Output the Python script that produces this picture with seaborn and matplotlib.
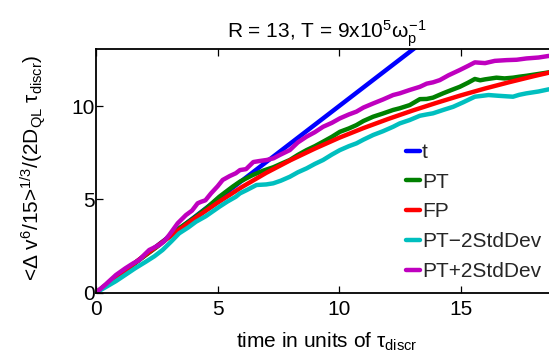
import numpy as np
import pandas as pd
import matplotlib
matplotlib.use("Agg")
import matplotlib.pyplot as plt
import seaborn as sns

# ---- data ----
t_time = [0.0, 20.0]
t_vals = [0.0, 20.0]

fp_time = [0, 1, 2, 3, 4, 5, 6, 7, 8, 9, 10, 11, 12, 13, 14, 15, 16, 17, 18, 19]
fp_vals = [0.0, 1.0, 2.0, 2.97, 3.92, 4.82, 5.66, 6.42, 7.1, 7.72, 8.3, 8.82,
           9.3, 9.75, 10.17, 10.57, 10.94, 11.28, 11.6, 11.9]

pt_time = [0, 0.5, 1.0, 1.5, 2.0, 2.5, 3.0, 3.42, 4.0, 4.52, 5.07, 5.62, 5.92,
           6.44, 6.9, 7.29, 7.6, 7.97, 8.3, 8.66, 9.0, 9.34, 9.7, 10.03, 10.4,
           10.71, 11.0, 11.4, 11.8, 12.22, 12.49, 12.9, 13.32, 13.6, 13.86,
           14.27, 14.6, 14.96, 15.3, 15.58, 15.8, 16.0, 16.47, 16.8, 17.15,
           17.4, 17.7, 18.1, 18.6, 19.0]
pt_vals = [0, 0.5, 0.98, 1.47, 1.97, 2.45, 2.98, 3.45, 3.98, 4.5, 5.14, 5.68,
           5.95, 6.3, 6.55, 6.72, 6.9, 7.11, 7.38, 7.64, 7.85, 8.09, 8.35, 8.62,
           8.8, 8.98, 9.2, 9.43, 9.6, 9.79, 9.88, 10.05, 10.37, 10.38, 10.45,
           10.68, 10.85, 11.03, 11.25, 11.45, 11.38, 11.43, 11.52, 11.48, 11.52,
           11.57, 11.62, 11.7, 11.8, 11.86]

lo_time = [0, 0.4, 0.82, 1.2, 1.6, 2.05, 2.4, 2.74, 3.1, 3.42, 3.8, 4.11, 4.52,
           5.07, 5.4, 5.75, 5.92, 6.2, 6.6, 7.0, 7.29, 7.6, 7.97, 8.3, 8.66,
           9.0, 9.34, 9.7, 10.03, 10.4, 10.71, 11.0, 11.4, 11.8, 12.22, 12.49,
           12.9, 13.32, 13.6, 13.86, 14.3, 14.69, 15.1, 15.58, 15.9, 16.14,
           16.55, 16.9, 17.15, 17.4, 17.7, 18.2, 18.6, 19.0]
lo_vals = [0, 0.3, 0.62, 0.95, 1.3, 1.66, 1.95, 2.29, 2.75, 3.18, 3.5, 3.8,
           4.1, 4.6, 4.88, 5.14, 5.32, 5.5, 5.77, 5.8, 5.86, 6.0, 6.21, 6.45,
           6.66, 6.9, 7.11, 7.4, 7.64, 7.85, 8.0, 8.2, 8.45, 8.65, 8.89, 9.07,
           9.25, 9.48, 9.55, 9.61, 9.8, 9.96, 10.2, 10.5, 10.55, 10.59, 10.55,
           10.52, 10.5, 10.6, 10.68, 10.78, 10.89, 10.95]

hi_time = [0, 0.4, 0.82, 1.2, 1.5, 1.78, 2.0, 2.19, 2.6, 2.8, 3.01, 3.36, 3.7,
           3.95, 4.18, 4.32, 4.5, 4.73, 5.0, 5.21, 5.5, 5.75, 5.92, 6.17, 6.47,
           6.7, 7.02, 7.3, 7.56, 7.97, 8.3, 8.66, 9.0, 9.34, 9.7, 10.03, 10.4,
           10.71, 11.0, 11.4, 11.8, 12.22, 12.49, 12.9, 13.32, 13.6, 13.86,
           14.14, 14.5, 14.96, 15.3, 15.58, 16.0, 16.4, 16.88, 17.3, 17.7,
           18.2, 18.6, 19.0]
hi_vals = [0, 0.45, 0.95, 1.3, 1.55, 1.75, 2.05, 2.29, 2.55, 2.75, 3.09, 3.72,
           4.16, 4.4, 4.79, 4.87, 4.95, 5.32, 5.7, 6.04, 6.25, 6.4, 6.57, 6.62,
           7.0, 7.05, 7.11, 7.2, 7.38, 7.64, 8.05, 8.36, 8.6, 8.89, 9.1, 9.34,
           9.55, 9.7, 9.92, 10.14, 10.35, 10.59, 10.68, 10.86, 11.03, 11.2,
           11.27, 11.39, 11.65, 11.93, 12.15, 12.34, 12.3, 12.42, 12.46, 12.48,
           12.55, 12.6, 12.68, 12.74]

series_names = ["t", "PT", "FP", "PT\u22122StdDev", "PT+2StdDev"]
series_colors = ["#0000FF", "#008000", "#FF0000", "#00BFBF", "#BF00BF"]
x_ticks = [0, 5, 10, 15]
y_ticks = [0, 5, 10]

# ---- style ----
sns.set_theme(style="white")
plt.rcParams["font.family"] = ["Liberation Sans", "DejaVu Sans"]
plt.rcParams["mathtext.fontset"] = "custom"
plt.rcParams["mathtext.rm"] = "Liberation Sans"
plt.rcParams["mathtext.it"] = "Liberation Sans"
plt.rcParams["mathtext.bf"] = "Liberation Sans:bold"
plt.rcParams["mathtext.sf"] = "Liberation Sans"

fig = plt.figure(figsize=(5.49, 3.60), dpi=100)
W, H = 549.0, 360.0
left_px, right_px, top_px, bot_px = 96.0, 558.0, 49.3, 292.7
ax = fig.add_axes([left_px / W, 1 - bot_px / H, (right_px - left_px) / W,
                   (bot_px - top_px) / H])

data_sets = [(t_time, t_vals), (pt_time, pt_vals), (fp_time, fp_vals),
             (lo_time, lo_vals), (hi_time, hi_vals)]
for (xs, ys), name, col in zip(data_sets, series_names, series_colors):
    df = pd.DataFrame({"time": xs, "val": ys})
    sns.lineplot(data=df, x="time", y="val", ax=ax, color=col, lw=3.2,
                 label=name, estimator=None, sort=False)

ax.set_xlim(0, 19)
ax.set_ylim(0, 13.04)
ax.set_xticks(x_ticks)
ax.set_yticks(y_ticks)
ax.set_xticklabels([str(v) for v in x_ticks])
ax.set_yticklabels([str(v) for v in y_ticks])

for s in ["left", "bottom", "top", "right"]:
    ax.spines[s].set_color("black")
    ax.spines[s].set_linewidth(1.3)
ax.tick_params(axis="both", direction="in", length=5, width=0.9, colors="black",
               labelsize=15, top=True, right=True, bottom=True, left=True)
ax.tick_params(axis="x", pad=5)
ax.tick_params(axis="y", pad=1)

ax.set_xlabel(r"time in units of $\tau_{\mathrm{discr}}$", fontsize=15,
              color="black", labelpad=9)
ax.set_ylabel(r"<$\Delta$ v$^{6}$/15>$^{1/3}$/(2D$_{\mathrm{QL}}$ $\tau_{\mathrm{discr}}$)",
              fontsize=15, color="black")
ax.yaxis.set_label_coords((48 - left_px) / (right_px - left_px),
                          (bot_px - 168) / (bot_px - top_px))
ax.set_title(r"R = 13, T = 9x10$^{5}$$\omega_{p}^{-1}$", fontsize=15,
             color="black", pad=8)

leg = ax.legend(loc="upper left",
                bbox_to_anchor=((406 - left_px) / (right_px - left_px),
                                (bot_px - 143) / (bot_px - top_px)),
                frameon=False, fontsize=15, handlelength=0.65,
                handletextpad=0.12, labelspacing=0.515, borderpad=0,
                borderaxespad=0)
for line in leg.get_lines():
    line.set_linewidth(3.2)

fig.savefig("out.png", dpi=100)
